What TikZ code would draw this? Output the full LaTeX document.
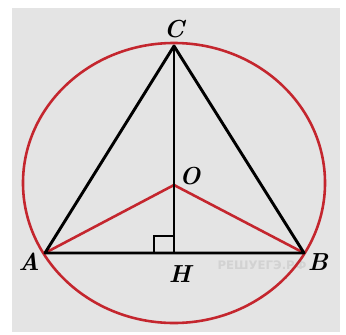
\documentclass[tikz,border=0pt]{standalone}
\usepackage{fontspec}
\usetikzlibrary{calc}
\newfontfamily\wmfont{DejaVu Sans}
\definecolor{circred}{HTML}{C4262E}
\definecolor{bggray}{HTML}{E4E4E4}
\begin{document}
\begin{tikzpicture}[x=0.03cm, y=-0.03cm,
  side/.style={line width=2.5pt, black},
  rad/.style={line width=2.2pt, draw=circred},
  lbl/.style={font=\fontsize{21}{23}\selectfont\bfseries\itshape, inner sep=0pt},
  wmark/.style={font=\wmfont\fontsize{10}{11}\selectfont\bfseries, text=gray!35, inner sep=0pt}]
  \useasboundingbox (0,0) rectangle (346,334);
  \fill[bggray] (12,8) rectangle (340,332);
  % points
  \coordinate (A) at (45,253);
  \coordinate (B) at (304,253);
  \coordinate (C) at (174,46);
  \coordinate (O) at (174,185);
  \coordinate (H) at (174,253);
  \node[wmark] (wm) at (262,265) {РЕШУЕГЭ.РФ};
  % circle and radii
  \draw[rad] (174,183) ellipse [x radius=4.53cm, y radius=4.2cm];
  \draw[rad] (A) -- (O) -- (B);
  % triangle and height
  \draw[side, line join=round] (A) -- (B) -- (C) -- cycle;
  \draw[side] (C) -- (H);
  \draw[line width=2pt] ($(H)+(-20,0)$) |- ($(H)+(0,-17)$);
  % labels
  \node[lbl] (lC) at (174,29) {C};
  \node[lbl] (lA) at (29,262) {A};
  \node[lbl] (lB) at (318,262) {B};
  \node[lbl] (lH) at (180,274) {H};
  \node[lbl] (lO) at (190,176) {O};
\end{tikzpicture}
\end{document}
